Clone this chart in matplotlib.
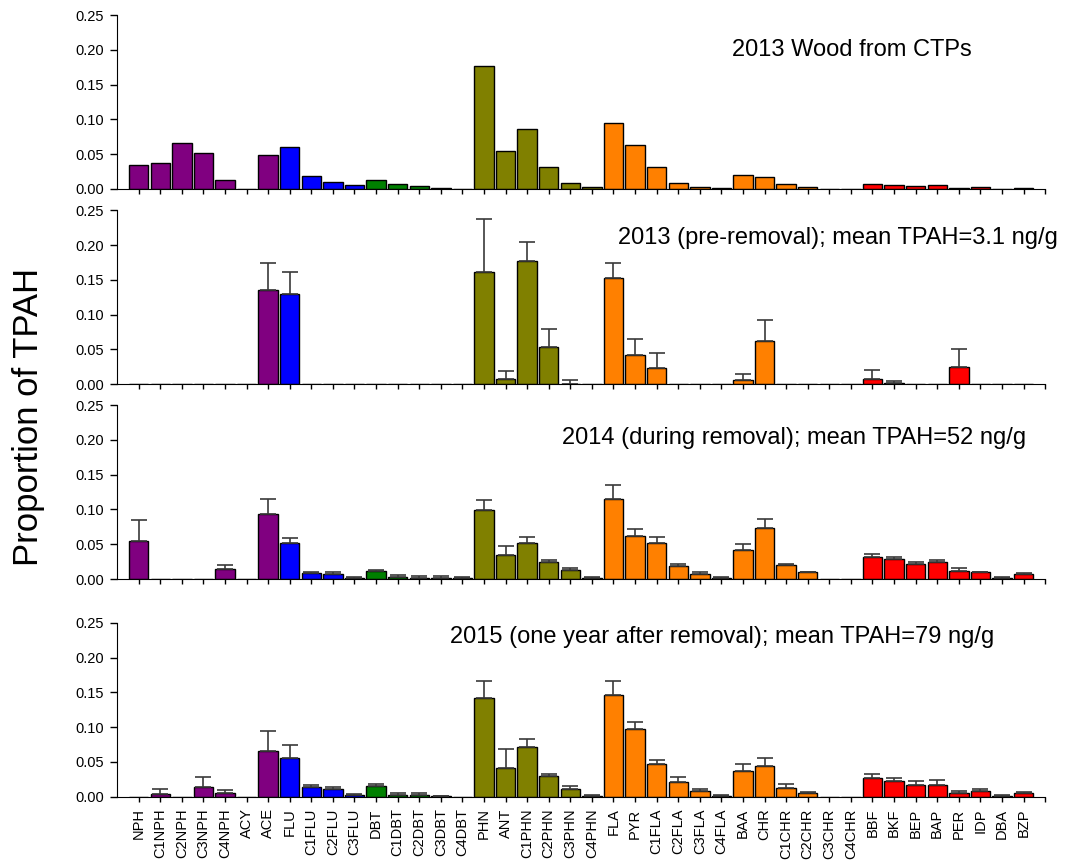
import numpy as np
import matplotlib
matplotlib.use('Agg')
import matplotlib.pyplot as plt

plt.rcParams['font.family'] = ['Liberation Sans', 'DejaVu Sans']

compounds = ['NPH', 'C1NPH', 'C2NPH', 'C3NPH', 'C4NPH', 'ACY', 'ACE',
             'FLU', 'C1FLU', 'C2FLU', 'C3FLU',
             'DBT', 'C1DBT', 'C2DBT', 'C3DBT', 'C4DBT',
             'PHN', 'ANT', 'C1PHN', 'C2PHN', 'C3PHN', 'C4PHN',
             'FLA', 'PYR', 'C1FLA', 'C2FLA', 'C3FLA', 'C4FLA',
             'BAA', 'CHR', 'C1CHR', 'C2CHR', 'C3CHR', 'C4CHR',
             'BBF', 'BKF', 'BEP', 'BAP', 'PER', 'IDP', 'DBA', 'BZP']

# group of each compound -> colour
groups = ['NPH'] * 7 + ['FLU'] * 4 + ['DBT'] * 5 + ['PHN'] * 6 + \
         ['FLA'] * 12 + ['HMW'] * 8
group_colors = {'NPH': '#800080', 'FLU': '#0000FF', 'DBT': '#008000',
                'PHN': '#808000', 'FLA': '#FF8000', 'HMW': '#FF0000'}

# 2013 wood from CTPs (no error bars)
wood = [0.0349, 0.0373, 0.066, 0.0516, 0.0134, 0.0, 0.0492,
        0.0607, 0.0186, 0.0096, 0.0057,
        0.0129, 0.0076, 0.0043, 0.0014, 0.0,
        0.177, 0.0545, 0.086, 0.0316, 0.0091, 0.003,
        0.0947, 0.063, 0.0316, 0.0086, 0.003, 0.0014,
        0.0206, 0.0172, 0.0067, 0.003, 0.0, 0.0,
        0.0076, 0.0062, 0.0043, 0.0057, 0.002, 0.0024, 0.0, 0.0014]

# 2013 pre-removal
pre = [0, 0, 0, 0, 0, 0, 0.135,
       0.130, 0, 0, 0,
       0, 0, 0, 0, 0,
       0.162, 0.0072, 0.177, 0.054, 0.001, 0,
       0.153, 0.0427, 0.024, 0, 0, 0,
       0.0067, 0.062, 0, 0, 0, 0,
       0.0077, 0.0014, 0, 0, 0.025, 0, 0, 0]
pre_err = [0, 0, 0, 0, 0, 0, 0.040,
           0.031, 0, 0, 0,
           0, 0, 0, 0, 0,
           0.075, 0.0125, 0.027, 0.025, 0.0048, 0,
           0.021, 0.023, 0.0216, 0, 0, 0,
           0.0087, 0.030, 0, 0, 0, 0,
           0.0123, 0.0039, 0, 0, 0.025, 0, 0, 0]

# 2014 during removal
during = [0.0546, 0, 0, 0, 0.0144, 0, 0.0934,
          0.0522, 0.0086, 0.0067, 0.0014,
          0.0115, 0.0029, 0.0014, 0.0014, 0.001,
          0.0987, 0.034, 0.0513, 0.024, 0.0125, 0.0014,
          0.1145, 0.0618, 0.0522, 0.0187, 0.0067, 0.0014,
          0.042, 0.0733, 0.0196, 0.0096, 0, 0,
          0.031, 0.0287, 0.021, 0.024, 0.011, 0.0096, 0.0014, 0.0067]
during_err = [0.030, 0, 0, 0, 0.0062, 0, 0.021,
              0.0062, 0.001, 0.003, 0.002,
              0.001, 0.0024, 0.0024, 0.0024, 0.0014,
              0.015, 0.013, 0.0087, 0.0028, 0.0038, 0.001,
              0.020, 0.0105, 0.0086, 0.0023, 0.003, 0.001,
              0.0083, 0.0134, 0.0024, 0.001, 0, 0,
              0.005, 0.0033, 0.003, 0.004, 0.0043, 0.001, 0.001, 0.0014]

# 2015 one year after removal
after = [0, 0.0038, 0, 0.0144, 0.0053, 0, 0.065,
         0.055, 0.0134, 0.011, 0.0019,
         0.0153, 0.0029, 0.0024, 0.001, 0,
         0.142, 0.041, 0.071, 0.0297, 0.011, 0.0014,
         0.146, 0.0967, 0.0465, 0.021, 0.0077, 0.0014,
         0.0374, 0.0445, 0.0129, 0.0048, 0, 0,
         0.0263, 0.022, 0.0163, 0.0163, 0.0057, 0.0077, 0.0014, 0.0048]
after_err = [0, 0.0077, 0, 0.0134, 0.0047, 0, 0.030,
             0.019, 0.0038, 0.0034, 0.0019,
             0.0034, 0.0028, 0.0024, 0.0004, 0,
             0.024, 0.028, 0.0114, 0.0033, 0.0038, 0.0005,
             0.021, 0.011, 0.0057, 0.008, 0.0028, 0.0005,
             0.010, 0.011, 0.0048, 0.0024, 0, 0,
             0.0057, 0.0043, 0.0067, 0.0072, 0.002, 0.0038, 0.001, 0.0024]

panels = [
    (wood, None, '2013 Wood from CTPs', (0.792, 0.80)),
    (pre, pre_err, '2013 (pre-removal); mean TPAH=3.1 ng/g', (0.777, 0.843)),
    (during, during_err, '2014 (during removal); mean TPAH=52 ng/g', (0.729, 0.81)),
    (after, after_err, '2015 (one year after removal); mean TPAH=79 ng/g', (0.652, 0.918)),
]

bottoms = [0.7805, 0.5537, 0.3275, 0.0747]
left, width, height = 0.1096, 0.869, 0.202

x = np.arange(len(compounds))
colors = [group_colors[g] for g in groups]

fig = plt.figure(figsize=(10.68, 8.61), dpi=100)

for i, (vals, errs, label, (tx, ty)) in enumerate(panels):
    ax = fig.add_axes([left, bottoms[i], width, height])
    vals = np.array(vals)
    ax.bar(x, vals, width=0.9, color=colors, edgecolor='black', linewidth=1)
    if errs is not None:
        errs = np.array(errs)
        m = errs > 0
        ax.errorbar(x[m], vals[m], yerr=[np.zeros(m.sum()), errs[m]],
                    fmt='none', ecolor='#3a3a3a', elinewidth=1.2,
                    capsize=5.5, capthick=1.2)
    ax.set_xlim(-1, 42)
    ax.set_ylim(0, 0.25)
    ax.set_yticks([0, 0.05, 0.10, 0.15, 0.20, 0.25])
    ax.set_yticklabels(['0.00', '0.05', '0.10', '0.15', '0.20', '0.25'])
    ax.set_xticks(x)
    ax.set_xticks([42], minor=True)
    if i == 3:
        ax.set_xticklabels(compounds, rotation=90)
    else:
        ax.set_xticklabels([])
    ax.spines['top'].set_visible(False)
    ax.spines['right'].set_visible(False)
    ax.tick_params(axis='y', direction='out', length=5, width=1,
                   labelsize=10.5, pad=4.5)
    ax.tick_params(axis='x', which='both', direction='out', length=3.5,
                   width=1, labelsize=10.5, pad=5)
    ax.text(tx, ty, label, transform=ax.transAxes, ha='center', va='center',
            fontsize=17)

fig.text(0.027, 0.516, 'Proportion of TPAH', rotation=90, ha='center',
         va='center', fontsize=25)

plt.savefig('out.png', dpi=100)
